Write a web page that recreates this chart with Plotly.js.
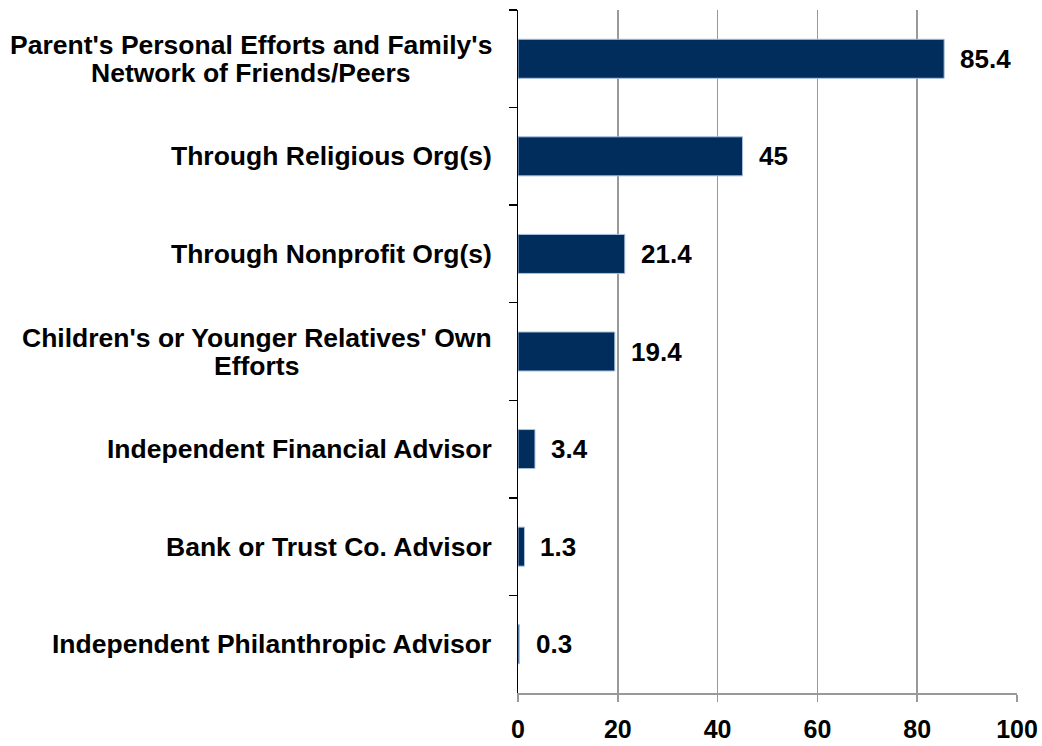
<!DOCTYPE html>
<html>
<head>
<meta charset="utf-8">
<script src="https://cdn.plot.ly/plotly-3.0.1.min.js"></script>
<style>html,body{margin:0;padding:0;background:#fff;}#chart{width:1042px;height:746px;}</style>
</head>
<body>
<div id="chart"></div>
<script>
const categories = [
  "Parent's Personal Efforts and Family's<br>Network of Friends/Peers",
  "Through Religious Org(s)",
  "Through Nonprofit Org(s)",
  "Children's or Younger Relatives' Own<br>Efforts",
  "Independent Financial Advisor",
  "Bank or Trust Co. Advisor",
  "Independent Philanthropic Advisor"
];
const values = [85.4, 45, 21.4, 19.4, 3.4, 1.3, 0.3];
const xTicks = [0, 20, 40, 60, 80, 100];

const FONT = "Liberation Sans, Arial, Helvetica, sans-serif";
const LABEL_SIZE = 26.5;
const LINE_GAP = 28;
const LABEL_GAP = 26;

const ctx = document.createElement('canvas').getContext('2d');
ctx.font = 'bold ' + LABEL_SIZE + 'px "Liberation Sans", Arial, sans-serif';
function textW(s) { return ctx.measureText(s).width; }

const trace = {
  type: 'bar',
  orientation: 'h',
  y: categories,
  x: values,
  width: 0.4,
  marker: {color: '#002D5C', line: {color: '#a9c1dd', width: 1}},
  hoverinfo: 'none'
};

const annotations = [];
categories.forEach((c, i) => {
  const lines = c.split('<br>');
  const n = lines.length;
  const maxW = Math.max.apply(null, lines.map(textW));
  lines.forEach((ln, j) => {
    annotations.push({
      xref: 'paper', yref: 'y', x: 0, y: c,
      xanchor: 'center', yanchor: 'middle',
      xshift: -LABEL_GAP - maxW / 2,
      yshift: ((n - 1) / 2 - j) * LINE_GAP,
      text: ln, showarrow: false, align: 'center',
      font: {family: FONT, size: LABEL_SIZE, color: '#000', weight: 'bold'}
    });
  });
  annotations.push({
    xref: 'x', yref: 'y', x: values[i], y: c,
    xanchor: 'left', yanchor: 'middle', xshift: 14,
    text: String(values[i]), showarrow: false,
    font: {family: FONT, size: 26, color: '#000', weight: 'bold'}
  });
});

const layout = {
  width: 1042, height: 746,
  margin: {l: 518, r: 25, t: 10, b: 53},
  paper_bgcolor: '#fff', plot_bgcolor: '#fff',
  showlegend: false,
  bargap: 0.6,
  xaxis: {
    range: [0, 100], tickvals: xTicks, ticktext: xTicks.map(String),
    showgrid: true, gridcolor: '#999', gridwidth: 1.5,
    zeroline: false, showline: true, linecolor: '#999', linewidth: 1.5,
    ticks: 'outside', ticklen: 7, tickcolor: '#999', tickwidth: 1.5,
    ticklabelstandoff: 6,
    tickfont: {family: FONT, size: 25, color: '#000', weight: 'bold'},
    fixedrange: true
  },
  yaxis: {
    type: 'category', categoryorder: 'array', categoryarray: categories,
    autorange: 'reversed',
    showgrid: false, zeroline: false,
    showline: true, linecolor: '#000', linewidth: 1.5,
    ticks: 'outside', tickson: 'boundaries', ticklen: 8, tickcolor: '#000', tickwidth: 1.5,
    showticklabels: false, fixedrange: true
  },
  annotations: annotations
};

Plotly.newPlot('chart', [trace], layout, {displayModeBar: false, staticPlot: true});
</script>
</body>
</html>
